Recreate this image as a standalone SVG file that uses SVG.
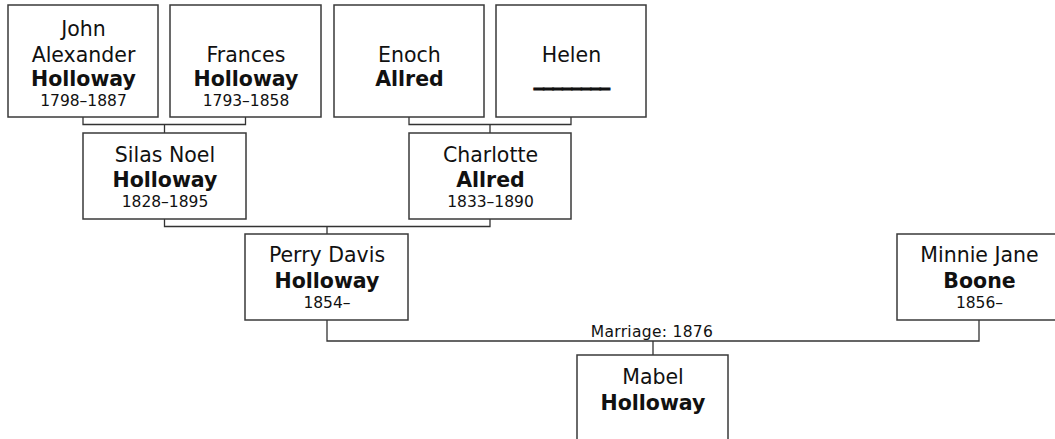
<svg xmlns="http://www.w3.org/2000/svg" width="1055" height="439" viewBox="0 0 1055 439">
<style>
.box{fill:#fff;stroke:#3a3a3a;stroke-width:1.5}
.con{fill:none;stroke:#333;stroke-width:1.3}
text{font-family:"DejaVu Sans",Verdana,sans-serif;fill:#111;text-anchor:middle}
.n{font-size:20.5px}
.b{font-size:20.5px;font-weight:bold}
.d{font-size:15.5px}
.m{font-size:15.5px;letter-spacing:0.3px}
</style>
<rect width="1055" height="439" fill="#fff"/>
<g id="connectors">
<path class="con" d="M83,117 V124.5 H245.5 V117 M164.5,124.5 V133"/>
<path class="con" d="M409,117 V124.5 H571 V117 M490,124.5 V133"/>
<path class="con" d="M164.5,219 V226.5 H490 V219 M327,226.5 V234"/>
<path class="con" d="M327,320 V341 H979 V320 M653,341 V355"/>
<text class="m" x="652" y="337">Marriage: 1876</text>
</g>
<g id="john">
<rect class="box" x="8" y="5" width="150" height="112"/>
<text class="n" x="83.5" y="36">John</text>
<text class="n" x="83.5" y="62">Alexander</text>
<text class="b" x="83.5" y="86">Holloway</text>
<text class="d" x="83.5" y="106">1798–1887</text>
</g>
<g id="frances">
<rect class="box" x="170" y="5" width="151" height="112"/>
<text class="n" x="246" y="62">Frances</text>
<text class="b" x="246" y="86">Holloway</text>
<text class="d" x="246" y="106">1793–1858</text>
</g>
<g id="enoch">
<rect class="box" x="334" y="5" width="150" height="112"/>
<text class="n" x="409.5" y="62">Enoch</text>
<text class="b" x="409.5" y="86">Allred</text>
</g>
<g id="helen">
<rect class="box" x="496" y="5" width="150" height="112"/>
<text class="n" x="571.5" y="62">Helen</text>
<text class="b" x="571.5" y="85" style="letter-spacing:-0.8px;stroke:#111;stroke-width:0.9px">________</text>
</g>
<g id="silas">
<rect class="box" x="83" y="133" width="163" height="86"/>
<text class="n" x="165" y="162">Silas Noel</text>
<text class="b" x="165" y="187">Holloway</text>
<text class="d" x="165" y="207">1828–1895</text>
</g>
<g id="charlotte">
<rect class="box" x="409" y="133" width="162" height="86"/>
<text class="n" x="490.5" y="162">Charlotte</text>
<text class="b" x="490.5" y="187">Allred</text>
<text class="d" x="490.5" y="207">1833–1890</text>
</g>
<g id="perry">
<rect class="box" x="245" y="234" width="163" height="86"/>
<text class="n" x="327" y="262">Perry Davis</text>
<text class="b" x="327" y="288">Holloway</text>
<text class="d" x="327" y="308">1854–</text>
</g>
<g id="minnie">
<rect class="box" x="897" y="234" width="164" height="86"/>
<text class="n" x="979.5" y="262">Minnie Jane</text>
<text class="b" x="979.5" y="288">Boone</text>
<text class="d" x="979.5" y="308">1856–</text>
</g>
<g id="mabel">
<rect class="box" x="577" y="355" width="151" height="112"/>
<text class="n" x="653" y="384">Mabel</text>
<text class="b" x="653" y="410">Holloway</text>
</g>
</svg>
